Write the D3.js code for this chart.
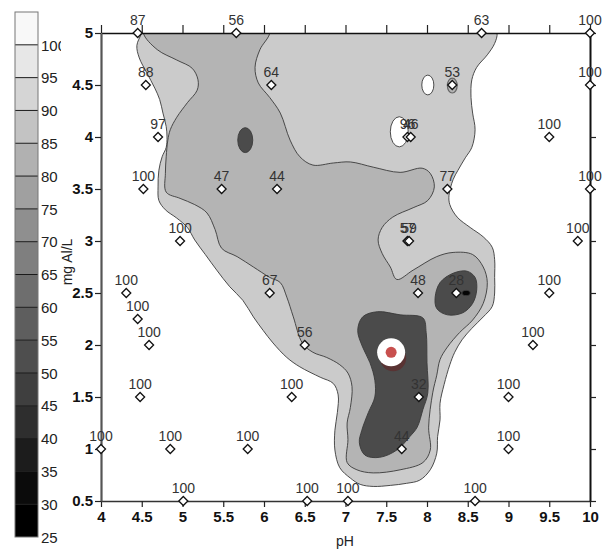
<!DOCTYPE html>
<html><head><meta charset="utf-8">
<script src="https://cdn.jsdelivr.net/npm/d3@7"></script>
<style>body{margin:0;background:#fff} svg{display:block}</style>
</head><body>
<svg id="chart" width="606" height="550"></svg>
<script>
// ---------- DATA ----------
const xTicks = [4, 4.5, 5, 5.5, 6, 6.5, 7, 7.5, 8, 8.5, 9, 9.5, 10];
const yTicks = [0.5, 1, 1.5, 2, 2.5, 3, 3.5, 4, 4.5, 5];
const legendLevels = [100, 95, 90, 85, 80, 75, 70, 65, 60, 55, 50, 45, 40, 35, 30, 25];
// bin colours from 25-30 up to >100
const legendColors = ["#000000","#0b0b0b","#1c1c1c","#2e2e2e","#3f3f3f","#4e4e4e","#5e5e5e","#6e6e6e",
                      "#7f7f7f","#8f8f8f","#a0a0a0","#b1b1b1","#c3c3c3","#d5d5d5","#e7e7e7","#f8f8f8"];

// sample points: pH, mg Al/L, value
const pointPH  = [4.45,5.66,8.67,10, 4.55,6.09,8.31,10, 4.70,7.76,7.80,9.50, 4.52,5.48,6.16,8.25,10,
                  4.97,7.76,7.78,9.85, 4.31,6.07,7.89,8.36,9.50, 4.45, 4.59,6.50,9.30,
                  4.48,6.34,7.90,9.00, 4.00,4.85,5.80,7.69,9.00, 5.01,6.53,7.03,8.59];
const pointMg  = [5,5,5,5, 4.5,4.5,4.5,4.5, 4,4,4,4, 3.5,3.5,3.5,3.5,3.5,
                  3,3,3,3, 2.5,2.5,2.5,2.5,2.5, 2.25, 2,2,2,
                  1.5,1.5,1.5,1.5, 1,1,1,1,1, 0.5,0.5,0.5,0.5];
const pointVal = [87,56,63,100, 88,64,53,100, 97,96,46,100, 100,47,44,77,100,
                  100,57,59,100, 100,67,48,28,100, 100, 100,56,100,
                  100,100,32,100, 100,100,100,44,100, 100,100,100,100];

// contour boundaries [pH, mg]
const contourLight = [[4.50,5.00],[4.55,5.10],[8.80,5.10],[8.86,5.00],[8.83,4.90],[8.74,4.79],[8.61,4.67],[8.55,4.55],
  [8.54,4.38],[8.56,4.23],[8.59,4.07],[8.55,3.90],[8.47,3.80],[8.38,3.68],[8.32,3.59],[8.27,3.44],[8.28,3.35],
  [8.37,3.23],[8.53,3.13],[8.69,3.04],[8.80,2.94],[8.83,2.82],[8.83,2.65],[8.83,2.50],[8.80,2.37],[8.69,2.27],
  [8.55,2.16],[8.43,2.05],[8.34,1.93],[8.28,1.81],[8.21,1.62],[8.16,1.44],[8.16,1.28],[8.13,1.12],[8.12,0.96],
  [8.04,0.80],[7.91,0.70],[7.75,0.67],[7.55,0.65],[7.34,0.64],[7.18,0.66],[7.06,0.72],[6.93,0.82],[6.87,0.99],
  [6.87,1.18],[6.90,1.35],[6.91,1.52],[6.85,1.63],[6.69,1.69],[6.44,1.79],[6.28,1.88],[6.11,2.02],[5.99,2.14],
  [5.87,2.27],[5.74,2.43],[5.58,2.56],[5.42,2.72],[5.28,2.87],[5.15,3.01],[5.06,3.13],[4.93,3.22],[4.79,3.30],
  [4.71,3.39],[4.70,3.52],[4.71,3.68],[4.75,3.81],[4.80,3.90],[4.81,4.00],[4.80,4.10],[4.76,4.23],[4.72,4.36],
  [4.66,4.47],[4.56,4.62],[4.47,4.76],[4.44,4.88]];
const contourMid = [[4.52,5.00],[4.56,5.10],[6.03,5.10],[6.07,5.00],[5.95,4.84],[5.89,4.67],[5.93,4.52],[6.07,4.38],
  [6.20,4.23],[6.32,3.97],[6.44,3.81],[6.60,3.73],[6.85,3.75],[7.06,3.76],[7.34,3.71],[7.67,3.66],[7.94,3.70],
  [8.04,3.65],[8.09,3.52],[8.01,3.39],[7.83,3.32],[7.58,3.23],[7.45,3.13],[7.40,3.01],[7.45,2.88],[7.55,2.75],
  [7.63,2.63],[7.83,2.72],[8.12,2.85],[8.32,2.89],[8.56,2.87],[8.69,2.75],[8.74,2.60],[8.69,2.40],[8.56,2.24],
  [8.40,2.12],[8.25,1.98],[8.16,1.86],[8.12,1.71],[8.07,1.54],[8.02,1.21],[8.04,0.99],[7.95,0.87],[7.67,0.80],
  [7.34,0.77],[7.14,0.80],[7.02,0.87],[7.03,1.09],[7.02,1.25],[7.06,1.40],[7.08,1.60],[7.03,1.73],[6.93,1.81],
  [6.77,1.88],[6.60,1.93],[6.47,2.02],[6.36,2.27],[6.28,2.46],[6.20,2.60],[6.07,2.65],[5.87,2.75],[5.67,2.85],
  [5.48,2.93],[5.40,3.11],[5.30,3.27],[5.15,3.35],[4.97,3.41],[4.80,3.47],[4.79,3.65],[4.80,3.81],[4.82,3.97],
  [4.85,4.07],[4.93,4.19],[5.06,4.33],[5.18,4.45],[5.19,4.55],[5.12,4.66],[4.93,4.74],[4.69,4.84]];
const contourDarkMain = [[7.15,2.14],[7.21,2.27],[7.39,2.32],[7.67,2.29],[7.95,2.26],[7.99,2.12],[8.00,1.83],
  [8.01,1.54],[7.95,1.38],[7.88,1.21],[7.79,1.12],[7.63,0.99],[7.42,0.92],[7.24,0.94],[7.17,1.06],[7.20,1.18],
  [7.28,1.35],[7.36,1.50],[7.36,1.66],[7.30,1.83],[7.21,1.98]];
const contourDark28 = [[8.10,2.46],[8.16,2.60],[8.32,2.69],[8.49,2.71],[8.59,2.65],[8.61,2.53],[8.56,2.40],
  [8.44,2.31],[8.25,2.29],[8.12,2.35]];

// small closed contours (ellipses): centre pH, centre mg, half-width pH, half-height mg, fill class
const blobPH   = [5.77, 8.48, 8.01, 7.66, 8.31];
const blobMg   = [3.97, 2.50, 4.50, 4.05, 4.495];
const blobRx   = [0.092, 0.05, 0.074, 0.11, 0.06];
const blobRy   = [0.12, 0.025, 0.095, 0.145, 0.072];
const blobFill = ["dark", "black", "white", "white", "mid"];

const markerPH = 7.56, markerMg = 1.93;

// ---------- DRAW ----------
const NARROW = "'Liberation Sans Narrow','Arial Narrow','Liberation Sans',Arial,sans-serif";
const fills = {light:"#cbcbcb", mid:"#b4b4b4", dark:"#4b4b4b", black:"#050505", white:"#ffffff"};
const svg = d3.select("#chart");
const x = d3.scaleLinear().domain([4, 10]).range([101, 590]);
const y = d3.scaleLinear().domain([0.5, 5]).range([501, 33]);

svg.append("defs").append("clipPath").attr("id","plotclip")
  .append("rect").attr("x",101).attr("y",33).attr("width",489).attr("height",468);
svg.select("defs").append("clipPath").attr("id","legclip")
  .append("rect").attr("x",0).attr("y",0).attr("width",61).attr("height",550);

const plot = svg.append("g").attr("clip-path","url(#plotclip)");
const line = d3.line().x(d => x(d[0])).y(d => y(d[1])).curve(d3.curveCatmullRomClosed.alpha(0.5));
const cstroke = {stroke:"#3a3a3a", "stroke-width":0.9};

function poly(data, fill) {
  plot.append("path").attr("d", line(data)).attr("fill", fills[fill])
    .attr("stroke", cstroke.stroke).attr("stroke-width", cstroke["stroke-width"]);
}
poly(contourLight, "light");
poly(contourMid, "mid");
poly(contourDarkMain, "dark");
poly(contourDark28, "dark");

blobPH.forEach((p, i) => {
  const cx = x(p), cy = y(blobMg[i]);
  plot.append("ellipse").attr("cx", cx).attr("cy", cy)
    .attr("rx", x(p + blobRx[i]) - cx).attr("ry", cy - y(blobMg[i] + blobRy[i]))
    .attr("fill", fills[blobFill[i]])
    .attr("stroke", blobFill[i] === "mid" ? "#666" : "#3a3a3a")
    .attr("stroke-width", blobFill[i] === "mid" ? 1.2 : 0.9);
});

// axes
const fmt = d => String(d);
const gB = svg.append("g").attr("transform","translate(0,501)")
  .call(d3.axisBottom(x).tickValues(xTicks).tickSize(6).tickSizeOuter(0).tickPadding(4).tickFormat(fmt));
const gT = svg.append("g").attr("transform","translate(0,33)")
  .call(d3.axisTop(x).tickValues(xTicks).tickSize(8).tickSizeOuter(0).tickFormat(""));
const gL = svg.append("g").attr("transform","translate(101,0)")
  .call(d3.axisLeft(y).tickValues(yTicks).tickSize(6).tickSizeOuter(0).tickPadding(2).tickFormat(fmt));
const gR = svg.append("g").attr("transform","translate(590,0)")
  .call(d3.axisRight(y).tickValues(yTicks).tickSize(6).tickSizeOuter(0).tickFormat(""));
[gB, gT, gL, gR].forEach(g => {
  g.selectAll("text").attr("font-family", NARROW).attr("font-size", 15)
    .attr("font-weight", "bold").attr("fill", "#111");
  g.selectAll(".tick line").attr("stroke", "#222").attr("stroke-width", 1.2);
});
gB.select(".domain").attr("stroke","#333").attr("stroke-width",1.5);
gT.select(".domain").attr("stroke","#111").attr("stroke-width",1.3);
gL.select(".domain").attr("stroke","#555").attr("stroke-width",2.2);
gR.select(".domain").attr("stroke","#111").attr("stroke-width",2);

// axis titles
svg.append("text").attr("x", 345).attr("y", 546).attr("text-anchor","middle")
  .attr("font-family", NARROW).attr("font-size", 14).attr("fill","#222").text("pH");
svg.append("text").attr("transform","translate(72,262) rotate(-90)").attr("text-anchor","middle")
  .attr("font-family", NARROW).attr("font-size", 14).attr("fill","#222").text("mg Al/L");

// points
const pts = svg.append("g");
pointPH.forEach((p, i) => {
  const cx = x(p), cy = y(pointMg[i]);
  pts.append("path").attr("transform", `translate(${cx},${cy})`)
    .attr("d", "M0,-4.5L4.5,0L0,4.5L-4.5,0Z")
    .attr("fill", "#fff").attr("stroke", "#111").attr("stroke-width", 1.3);
  pts.append("text").attr("x", cx).attr("y", cy - 8).attr("text-anchor","middle")
    .attr("font-family", NARROW).attr("font-size", 14).attr("fill","#333").text(pointVal[i]);
});

// marker
const mx = x(markerPH), my = y(markerMg);
svg.append("circle").attr("cx", mx + 2).attr("cy", my + 6).attr("r", 13).attr("fill", "#5a3131").attr("opacity", 0.95);
svg.append("circle").attr("cx", mx).attr("cy", my).attr("r", 14).attr("fill", "#ffffff");
svg.append("circle").attr("cx", mx).attr("cy", my).attr("r", 5.5).attr("fill", "#c8504e");

// colour bar
const yL = d3.scaleLinear().domain([25, 105]).range([537, 12]);
const leg = svg.append("g").attr("clip-path","url(#legclip)");
legendColors.forEach((c, i) => {
  const lo = 25 + 5 * i, hi = lo + 5;
  leg.append("rect").attr("x", 15).attr("width", 23)
    .attr("y", yL(hi)).attr("height", yL(lo) - yL(hi)).attr("fill", c);
});
legendLevels.forEach(v => {
  if (v > 25) leg.append("line").attr("x1", 15).attr("x2", 38).attr("y1", yL(v)).attr("y2", yL(v))
    .attr("stroke", "#1a1a1a").attr("stroke-width", 1);
  leg.append("text").attr("x", 41).attr("y", yL(v)).attr("dy", "0.38em")
    .attr("font-family", NARROW).attr("font-size", 15).attr("fill", "#222").text(v);
});
leg.append("rect").attr("x", 15).attr("y", 12).attr("width", 23).attr("height", 525)
  .attr("fill", "none").attr("stroke", "#777").attr("stroke-width", 1);
</script>
</body></html>
